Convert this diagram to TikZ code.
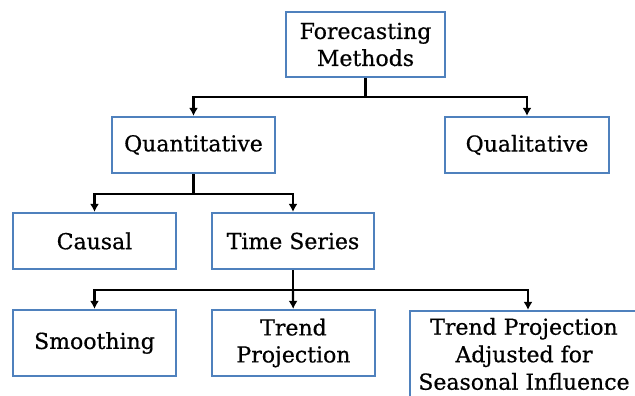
\documentclass[tikz,border=0pt]{standalone}
\usepackage{fontspec}
\setmainfont{DejaVu Serif}
\newfontfamily\boxfont{DejaVu Serif}[FakeBold=0.6]
\usetikzlibrary{arrows.meta}
\definecolor{boxblue}{RGB}{79,129,189}
\tikzset{>={Latex[length=8pt,width=9pt]}}
\tikzset{methodbox/.style={draw=boxblue, line width=2.2pt, fill=white, align=center,
	inner sep=0pt, font=\boxfont\fontsize{22}{27}\selectfont}}
\tikzset{link/.style={line width=2.2pt, black}}

\begin{document}
\begin{tikzpicture}[x=1pt,y=-1pt]
	\useasboundingbox (0,0) rectangle (635,396);
	\clip (0,0) rectangle (635,396);

	\node[methodbox, minimum width=159pt, minimum height=65pt] (fm) at (365.5,44.5) {Forecasting\\Methods};
	\node[methodbox, minimum width=163pt, minimum height=56pt] (quant) at (193.5,145) {Quantitative};
	\node[methodbox, minimum width=164pt, minimum height=56pt] (qual) at (527,145) {Qualitative};
	\node[methodbox, minimum width=163pt, minimum height=56pt] (causal) at (94.5,241) {Causal};
	\node[methodbox, minimum width=162pt, minimum height=56pt] (ts) at (293,241) {Time Series};
	\node[methodbox, minimum width=163pt, minimum height=66pt] (smooth) at (94.5,343) {Smoothing};
	\node[methodbox, minimum width=163pt, minimum height=66pt] (trend) at (293.5,343) {Trend\\Projection};
	\node[methodbox, minimum width=236pt, minimum height=100pt] (seasonal) at (528,361) {};
	\node[align=center, inner sep=0pt, font=\boxfont\fontsize{22}{27.5}\selectfont] (seasonaltext) at (524,354)
		{Trend Projection\\Adjusted for\\Seasonal Influence};

	%connectors
	\coordinate (j1) at (fm.south |- 0,97);
	\coordinate (j2) at (quant.south |- 0,194);
	\coordinate (j3) at (ts.south |- 0,290);

	\draw[link] (fm) -- (j1);
	\draw[link][->] (j1) -| (quant);
	\draw[link][->] (j1) -| (qual);

	\draw[link] (quant) -- (j2);
	\draw[link][->] (j2) -| (causal);
	\draw[link][->] (j2) -| (ts);

	\draw[link] (ts) -- (j3);
	\draw[link][->] (j3) -| (smooth);
	\draw[link][->] (j3) -- (trend);
	\draw[link][->] (j3) -| (seasonal);
\end{tikzpicture}
\end{document}
